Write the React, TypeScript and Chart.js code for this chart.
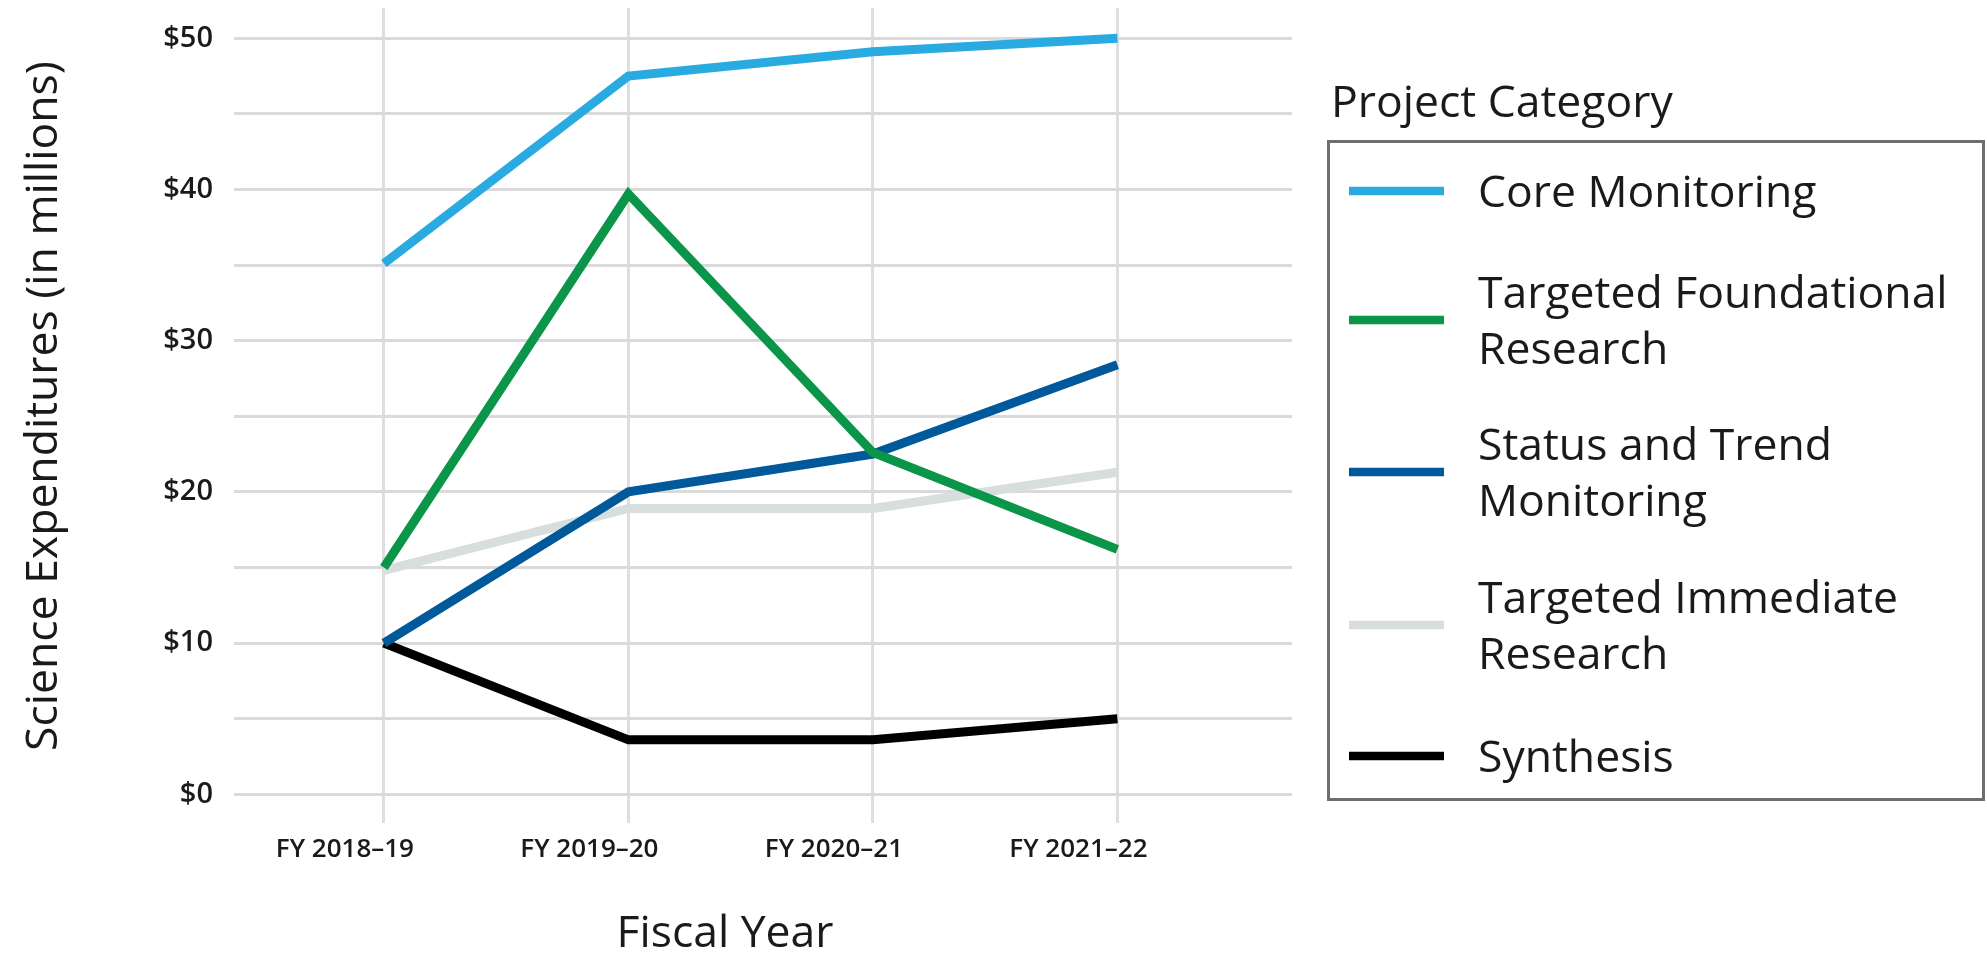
import React, { useEffect, useRef } from 'react';
import { Chart, registerables } from 'chart.js';

Chart.register(...registerables);

// ---------- data ----------
const categories = ['FY 2018–19', 'FY 2019–20', 'FY 2020–21', 'FY 2021–22'];

const seriesNames = [
  'Core Monitoring',
  'Targeted Foundational Research',
  'Status and Trend Monitoring',
  'Targeted Immediate Research',
  'Synthesis',
];

const coreMonitoring = [35.1, 47.5, 49.1, 50.0];
const targetedFoundational = [15.0, 39.7, 22.6, 16.2];
const statusAndTrend = [10.0, 20.0, 22.5, 28.4];
const targetedImmediate = [14.8, 18.9, 18.9, 21.3];
const synthesis = [10.0, 3.6, 3.6, 5.0];

const seriesColors = ['#29abe2', '#0a9548', '#00599b', '#d8dedd', '#000000'];

const yGridValues = [0, 5, 10, 15, 20, 25, 30, 35, 40, 45, 50];
const yTickValues = [0, 10, 20, 30, 40, 50];
const yTickLabels = ['$0', '$10', '$20', '$30', '$40', '$50'];

const yTitle = 'Science Expenditures (in millions)';
const xTitle = 'Fiscal Year';
const legendTitle = 'Project Category';

const FONT = '"Open Sans", "DejaVu Sans", sans-serif';
const TEXT = '#1a1a1a';

export default function App() {
  const ref = useRef<HTMLCanvasElement | null>(null);

  useEffect(() => {
    document.body.style.margin = '0';
    const canvas = ref.current;
    if (!canvas) return;

    const allSeries = [coreMonitoring, targetedFoundational, statusAndTrend, targetedImmediate, synthesis];

    const overlayPlugin = {
      id: 'overlayText',
      afterDraw(chart: any) {
        const ctx = chart.ctx as CanvasRenderingContext2D;
        ctx.save();
        ctx.fillStyle = TEXT;
        ctx.font = `44.5px ${FONT}`;

        // y axis title
        ctx.save();
        ctx.translate(44, 406);
        ctx.rotate(-Math.PI / 2);
        ctx.textAlign = 'center';
        ctx.textBaseline = 'middle';
        ctx.fillText(yTitle, 0, 0);
        ctx.restore();

        // x axis title
        ctx.textAlign = 'center';
        ctx.textBaseline = 'alphabetic';
        ctx.fillText(xTitle, 725, 947);

        // legend title
        ctx.textAlign = 'left';
        ctx.fillText(legendTitle, 1331, 117);

        // legend box
        ctx.strokeStyle = '#6e6e6e';
        ctx.lineWidth = 3;
        ctx.strokeRect(1328.5, 141.5, 655, 658);

        const sampleY = [191, 320, 472, 625, 756];
        const lineH = 56;
        const maxW = 500;
        seriesNames.forEach((name, i) => {
          const y = sampleY[i];
          ctx.strokeStyle = seriesColors[i];
          ctx.lineWidth = 8.5;
          ctx.lineCap = 'butt';
          ctx.beginPath();
          ctx.moveTo(1349, y);
          ctx.lineTo(1444, y);
          ctx.stroke();

          const words = name.split(' ');
          const lines: string[] = [];
          let cur = '';
          words.forEach((w) => {
            const test = cur ? cur + ' ' + w : w;
            if (ctx.measureText(test).width > maxW && cur) {
              lines.push(cur);
              cur = w;
            } else {
              cur = test;
            }
          });
          if (cur) lines.push(cur);
          const n = lines.length;
          ctx.fillStyle = TEXT;
          lines.forEach((ln, k) => {
            const cy = y + (k - (n - 1) / 2) * lineH;
            ctx.fillText(ln, 1478, cy + 16);
          });
        });
        ctx.restore();
      },
    };

    const chart = new Chart(canvas, {
      type: 'line',
      data: {
        datasets: allSeries.map((vals, i) => ({
          label: seriesNames[i],
          data: vals.map((v, k) => ({ x: k, y: v })),
          borderColor: seriesColors[i],
          backgroundColor: seriesColors[i],
          borderWidth: 9,
          pointRadius: 0,
          pointHoverRadius: 0,
          tension: 0,
          fill: false,
          borderCapStyle: 'butt',
          borderJoinStyle: 'miter',
        })),
      },
      options: {
        animation: false,
        responsive: false,
        maintainAspectRatio: false,
        devicePixelRatio: 1,
        layout: { padding: { left: 0, top: 8, right: 695, bottom: 0 } },
        plugins: {
          legend: { display: false },
          tooltip: { enabled: false },
        },
        scales: {
          x: {
            type: 'linear',
            position: 'bottom',
            min: -0.613,
            max: 3.714,
            afterBuildTicks: (scale: any) => {
              scale.ticks = categories.map((_, i) => ({ value: i }));
            },
            afterFit: (scale: any) => {
              scale.height = 131;
              scale.paddingLeft = 0;
              scale.paddingRight = 0;
            },
            ticks: {
              autoSkip: false,
              maxRotation: 0,
              minRotation: 0,
              padding: 11,
              labelOffset: -39,
              color: TEXT,
              font: { family: FONT, size: 26, weight: '600' },
              callback: (v: any) => categories[Math.round(Number(v))] ?? '',
            },
            grid: { color: '#dedede', lineWidth: 3, drawTicks: false },
            border: { display: false },
            title: { display: false },
          },
          y: {
            type: 'linear',
            min: -1.9,
            max: 52,
            afterBuildTicks: (scale: any) => {
              scale.ticks = yGridValues.map((v) => ({ value: v }));
            },
            afterFit: (scale: any) => {
              scale.width = 234;
              scale.paddingTop = 0;
              scale.paddingBottom = 0;
            },
            ticks: {
              padding: 21,
              color: TEXT,
              font: { family: FONT, size: 29, weight: '600' },
              callback: (v: any) => {
                const idx = yTickValues.indexOf(Number(v));
                return idx >= 0 ? yTickLabels[idx] : '';
              },
            },
            grid: { color: '#dadada', lineWidth: 3, drawTicks: false },
            border: { display: false },
            title: { display: false },
          },
        },
      },
      plugins: [overlayPlugin],
    } as any);

    return () => chart.destroy();
  }, []);

  return (
    <div style={{ position: 'relative', width: 1987, height: 954, background: '#ffffff' }}>
      <canvas ref={ref} width={1987} height={954} style={{ display: 'block', width: 1987, height: 954 }} />
    </div>
  );
}
